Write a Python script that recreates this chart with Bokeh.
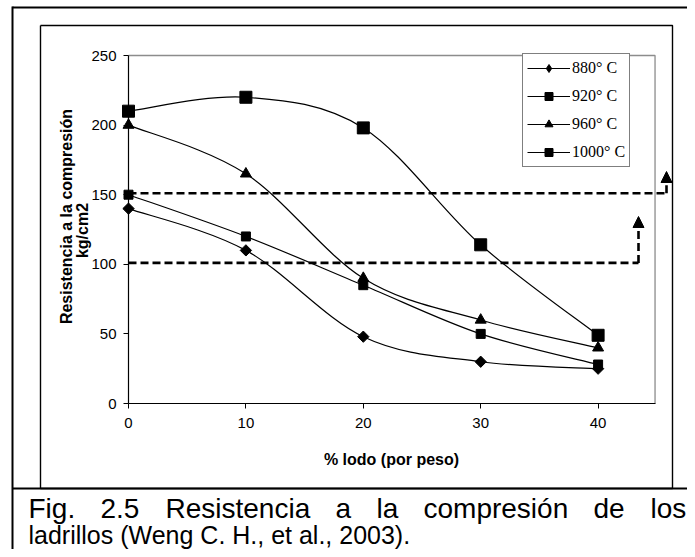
import numpy as np
from bokeh.plotting import figure
from bokeh.models import (LinearAxis, FixedTicker, Range1d, Legend, LegendItem,
                          Arrow, NormalHead, ColumnDataSource)
from bokeh.core.properties import value
from bokeh.embed import file_html
from bokeh.resources import INLINE

# ---------------- data ----------------
x_pct = [0, 10, 20, 30, 40]
s880 = [140, 110, 48, 30, 25]
s920 = [150, 120, 85, 50, 28]
s960 = [200, 165, 90, 60, 40]
s1000 = [210, 220, 198, 114, 49]
series_labels = ["880° C", "920° C", "960° C", "1000° C"]
ref_levels = [151, 101]
x_ticks = [0, 10, 20, 30, 40]
y_ticks = [0, 50, 100, 150, 200, 250]
x_title = "% lodo (por peso)"
y_title_1 = "Resistencia a la compresión"
y_title_2 = "kg/cm2"
caption_line1 = ["Fig.", "2.5", "Resistencia", "a", "la", "compresión", "de", "los"]
caption_line2 = "ladrillos (Weng C. H., et al., 2003)."

# ---------------- layout helpers ----------------
W, H = 687, 549
X0_PX, XSCALE = 128.0, 11.74
Y0_PX, YSCALE = 403.0, 1.392
XMAX = 44.85
YMAX = 250


def dx(sx):
    return (sx - X0_PX) / XSCALE


def dy(sy):
    return (Y0_PX - sy) / YSCALE


p = figure(width=W, height=H,
           x_range=Range1d(dx(0), dx(W)),
           y_range=Range1d(dy(H), dy(0)),
           x_axis_type=None, y_axis_type=None,
           toolbar_location=None, output_backend="svg",
           min_border=0, outline_line_color=None)
p.background_fill_color = "white"
p.border_fill_color = "white"

SANS = "Liberation Sans"
SERIF = "Liberation Serif"

# axes
xa = LinearAxis(fixed_location=0, bounds=(0, XMAX), ticker=FixedTicker(ticks=x_ticks))
ya = LinearAxis(fixed_location=0, bounds=(0, YMAX), ticker=FixedTicker(ticks=y_ticks))
for ax in (xa, ya):
    ax.axis_line_color = "black"
    ax.axis_line_width = 1.2
    ax.major_tick_line_color = "black"
    ax.major_tick_in = 0
    ax.major_tick_out = 5
    ax.minor_tick_line_color = None
    ax.major_label_text_font = SANS
    ax.major_label_text_font_size = "15px"
    ax.major_label_text_color = "black"
xa.major_label_standoff = 9
ya.major_label_standoff = 7
p.add_layout(xa, "below")
p.add_layout(ya, "left")

# plot-area border (gray top/right)
p.line([0, XMAX, XMAX], [YMAX, YMAX, 0], line_color="#8c8c8c", line_width=1.3)

# ---------------- series ----------------
def bezier_source(xs, ys):
    n = len(xs)
    d = dict(x0=[], y0=[], x1=[], y1=[], cx0=[], cy0=[], cx1=[], cy1=[])
    for i in range(n - 1):
        im = i - 1 if i > 0 else i
        ip = i + 2 if i + 2 < n else i + 1
        d["x0"].append(xs[i]); d["y0"].append(ys[i])
        d["x1"].append(xs[i + 1]); d["y1"].append(ys[i + 1])
        d["cx0"].append(xs[i] + (xs[i + 1] - xs[im]) / 6.0)
        d["cy0"].append(ys[i] + (ys[i + 1] - ys[im]) / 6.0)
        d["cx1"].append(xs[i + 1] - (xs[ip] - xs[i]) / 6.0)
        d["cy1"].append(ys[i + 1] - (ys[ip] - ys[i]) / 6.0)
    return ColumnDataSource(d)


marker_specs = [
    dict(marker="square", size=8, angle=np.pi / 4),
    dict(marker="square", size=9, angle=0),
    dict(marker="triangle", size=11, angle=0),
    dict(marker="square", size=12, angle=0),
]
all_series = [s880, s920, s960, s1000]
items = []
for k, (vals, spec, lab) in enumerate(zip(all_series, marker_specs, series_labels)):
    src = bezier_source(x_pct, vals)
    cr = p.bezier(x0="x0", y0="y0", x1="x1", y1="y1", cx0="cx0", cy0="cy0",
                  cx1="cx1", cy1="cy1", source=src, line_color="black", line_width=1.2)
    mr = p.scatter(x_pct, vals, marker=spec["marker"], size=spec["size"],
                   angle=spec["angle"], fill_color="black", line_color="black")
    rends = [cr, mr]
    if k == 0:
        # legend-only diamond swatch (legend does not rotate markers)
        lr = p.scatter([np.nan], [np.nan], marker="diamond", size=13,
                       fill_color="black", line_color="black")
        rends = [cr, lr]
    items.append(LegendItem(label=lab, renderers=rends))

legend = Legend(items=items, location=(522, 382))
legend.border_line_color = "black"
legend.border_line_width = 1
legend.background_fill_color = "white"
legend.background_fill_alpha = 1
legend.label_text_font = SERIF
legend.label_text_font_size = "16px"
legend.label_text_color = "black"
legend.glyph_width = 43
legend.glyph_height = 20
legend.label_standoff = 2
legend.spacing = 8
legend.padding = 4
legend.margin = 0
p.add_layout(legend)

# ---------------- dashed reference arrows ----------------
arrow_x = [dx(666), dx(638)]
arrow_tip = [dy(171), dy(216)]
for lvl, ax_, tip in zip(ref_levels, arrow_x, arrow_tip):
    p.line([0, ax_], [lvl, lvl], line_color="black", line_width=2.6, line_dash="8 4")
    p.add_layout(Arrow(x_start=ax_, y_start=lvl, x_end=ax_, y_end=tip,
                       line_color="black", line_width=2.6, line_dash="8 4",
                       end=NormalHead(size=11, fill_color="black", line_color="black")))

# ---------------- axis titles ----------------
p.text(x=[dx(391)], y=[dy(459)], text=[x_title], text_font=value(SANS),
       text_font_style="bold", text_font_size="16px", text_align="center",
       text_baseline="middle", text_color="black")
p.text(x=[dx(66)], y=[dy(216)], text=[y_title_1], angle=np.pi / 2, text_font=value(SANS),
       text_font_style="bold", text_font_size="16px", text_align="center",
       text_baseline="middle", text_color="black")
p.text(x=[dx(82)], y=[dy(230)], text=[y_title_2], angle=np.pi / 2, text_font=value(SANS),
       text_font_style="bold", text_font_size="16px", text_align="center",
       text_baseline="middle", text_color="black")

# ---------------- frames ----------------
p.line([dx(12), dx(12)], [dy(6), dy(H)], line_color="black", line_width=2)
p.line([dx(12), dx(W)], [dy(7), dy(7)], line_color="black", line_width=2)
p.line([dx(12), dx(W)], [dy(488), dy(488)], line_color="black", line_width=2)
p.line([dx(40), dx(672), dx(672), dx(40), dx(40)],
       [dy(25), dy(25), dy(488), dy(488), dy(25)], line_color="black", line_width=1.4)

# ---------------- caption ----------------
cap_x = [28, 100, 165, 335, 376, 423, 593, 650]
p.text(x=[dx(v) for v in cap_x], y=[dy(508)] * len(cap_x), text=caption_line1,
       text_font=value(SANS), text_font_size="28px", text_align="left",
       text_baseline="middle", text_color="black")
p.text(x=[dx(28)], y=[dy(534)], text=[caption_line2],
       text_font=value(SANS), text_font_size="25px", text_align="left",
       text_baseline="middle", text_color="black")

open("out.html", "w").write(file_html(p, INLINE))
